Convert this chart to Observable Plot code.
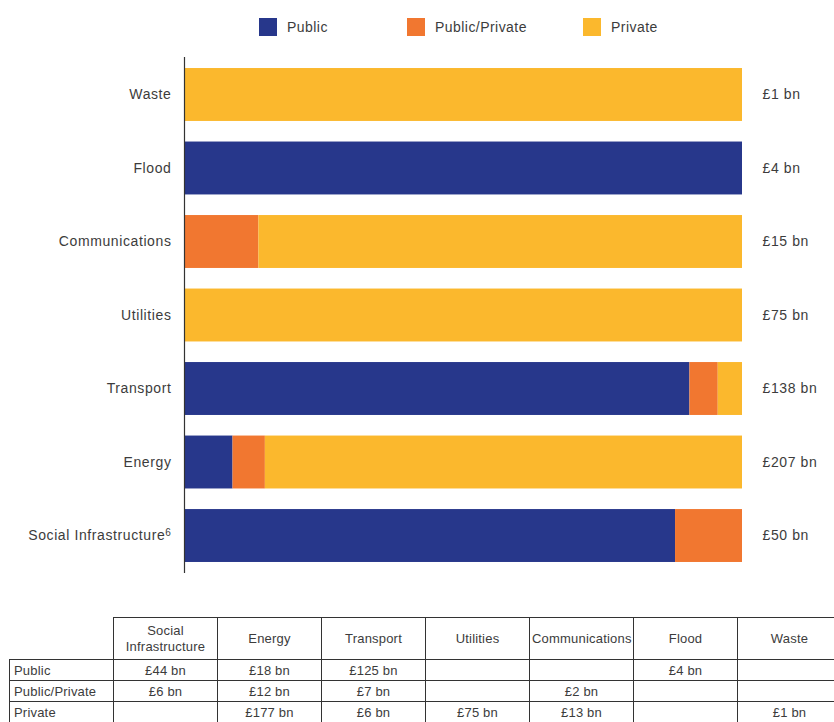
<!DOCTYPE html>
<html>
<head>
<meta charset="utf-8">
<script src="https://cdn.jsdelivr.net/npm/d3@7"></script>
<script src="https://cdn.jsdelivr.net/npm/@observablehq/plot@0.6"></script>
<style>
  body { margin:0; width:834px; height:722px; overflow:hidden; background:#fff;
         font-family:"Liberation Sans", Arial, sans-serif; color:#3c3c3c; position:relative; }
  #legend { position:absolute; top:0; left:0; width:834px; height:45px; }
  .item { position:absolute; top:18px; height:18px; display:flex; align-items:center; font-size:14px; letter-spacing:0.45px; }
  .sw { width:18px; height:18px; margin-right:10px; }
  #chart { position:absolute; top:45px; left:0; }
  table { position:absolute; top:617px; left:9px; border-collapse:collapse; table-layout:fixed; width:832px;
          font-size:13px; letter-spacing:0.2px; color:#3c3c3c; }
  td, th { border:1.5px solid #333; font-weight:normal; text-align:center; padding:0 2px; height:20px; box-sizing:border-box; }
  th { height:42px; line-height:16px; }
  td { height:21px; }
  th.corner { border-top:none; border-left:none; }
  td.lab { text-align:left; padding-left:4px; }
</style>
</head>
<body>
<div id="legend"></div>
<div id="chart"></div>
<table id="tbl"></table>
<script>
const categories = ["Waste", "Flood", "Communications", "Utilities", "Transport", "Energy", "Social Infrastructure"];
const types = ["Public", "Public/Private", "Private"];
const publicValues = [0, 4, 0, 0, 125, 18, 44];
const publicPrivateValues = [0, 0, 2, 0, 7, 12, 6];
const privateValues = [1, 0, 13, 75, 6, 177, 0];
const colors = ["#27378b", "#f17730", "#fbb82d"];
const footnotes = {"Social Infrastructure": "6"};
const legendX = [259, 407, 583];

const series = [publicValues, publicPrivateValues, privateValues];
const rows = [];
categories.forEach((c, i) => {
  series.forEach((arr, j) => rows.push({category: c, type: types[j], value: arr[i]}));
});
const totals = categories.map((c, i) => publicValues[i] + publicPrivateValues[i] + privateValues[i]);
const fmt = v => `£${v} bn`;

// Legend
const legend = document.getElementById("legend");
types.forEach((t, j) => {
  const it = document.createElement("div");
  it.className = "item";
  it.style.left = legendX[j] + "px";
  it.innerHTML = `<span class="sw" style="background:${colors[j]}"></span><span>${t}</span>`;
  legend.appendChild(it);
});

// Chart
const chart = Plot.plot({
  width: 834,
  height: 548,
  marginLeft: 184,
  marginRight: 92,
  marginTop: 12,
  marginBottom: 20,
  style: {fontFamily: '"Liberation Sans", Arial, sans-serif', fontSize: "14px", color: "#3c3c3c", letterSpacing: "0.6px", background: "transparent"},
  x: {domain: [0, 1], axis: null},
  y: {domain: categories, paddingInner: 0.28, paddingOuter: 0.15, round: false, label: null},
  color: {domain: types, range: colors},
  marks: [
    Plot.barX(rows, Plot.stackX({x: "value", y: "category", fill: "type", offset: "normalize", order: types})),
    Plot.ruleX([0], {stroke: "#333", strokeWidth: 1.2}),
    Plot.text(categories, {x: 1, y: d => d, text: (d, i) => fmt(totals[i]), dx: 20, textAnchor: "start", fill: "#3c3c3c", fontSize: 14}),
    Plot.axisY({tickSize: 0, tickPadding: 13, fontSize: 14, label: null, tickFormat: d => d})
  ]
});
// superscript footnote markers on the category labels
d3.select(chart).selectAll("text").each(function() {
  const t = this.textContent;
  if (footnotes[t] && this.childElementCount === 0) {
    d3.select(this).append("tspan").attr("dy", "-0.45em").attr("font-size", "10px").text(footnotes[t]);
  }
});
document.getElementById("chart").appendChild(chart);

// Table
const tableOrder = [...categories].reverse();
const headerLabels = {"Social Infrastructure": "Social<br>Infrastructure"};
let html = `<colgroup>` + d3.range(8).map(() => `<col style="width:104px">`).join("") + `</colgroup>`;
html += `<tr><th class="corner"></th>` + tableOrder.map(c => `<th>${headerLabels[c] || c}</th>`).join("") + `</tr>`;
types.forEach((t, j) => {
  html += `<tr><td class="lab">${t}</td>` + tableOrder.map(c => {
    const v = series[j][categories.indexOf(c)];
    return `<td>${v ? fmt(v) : ""}</td>`;
  }).join("") + `</tr>`;
});
document.getElementById("tbl").innerHTML = html;
</script>
</body>
</html>
